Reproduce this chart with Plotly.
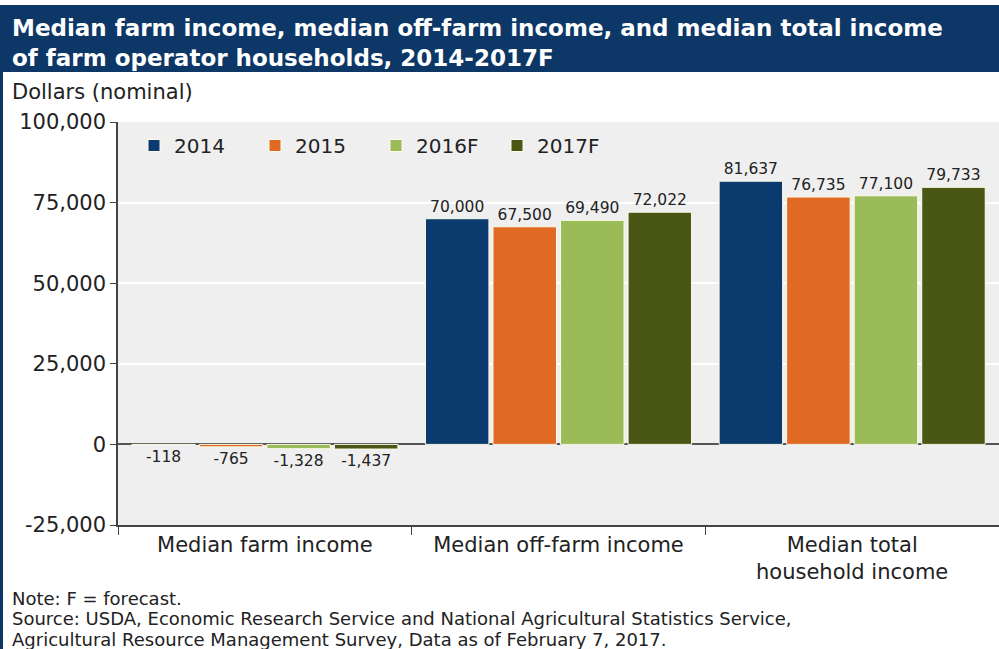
import plotly.graph_objects as go

categories = ["Median farm income", "Median off-farm income", "Median total<br>household income"]
years = ["2014", "2015", "2016F", "2017F"]
values = {
    "2014": [-118, 70000, 81637],
    "2015": [-765, 67500, 76735],
    "2016F": [-1328, 69490, 77100],
    "2017F": [-1437, 72022, 79733],
}
colors = {"2014": "#0b3a6e", "2015": "#e06a24", "2016F": "#9bbb59", "2017F": "#4a5714"}
y_ticks = [-25000, 0, 25000, 50000, 75000, 100000]
title_lines = ["Median farm income, median off-farm income, and median total income",
               "of farm operator households, 2014-2017F"]
note_lines = ["Note: F = forecast.",
              "Source: USDA, Economic Research Service and National Agricultural Statistics Service,",
              "Agricultural Resource Management Survey, Data as of February 7, 2017."]

FONT = "DejaVu Sans, Verdana, sans-serif"
W, H = 999, 649
L, R, T, B = 118, 0, 122, 124
pw, ph = W - L - R, H - T - B

def px_x(p):
    return (p - L) / pw

def px_y(p):
    return (H - B - p) / ph

fig = go.Figure()
for yr in years:
    fig.add_trace(go.Bar(
        x=categories, y=values[yr], name=yr,
        marker=dict(color=colors[yr], line=dict(color="#fbfbe8", width=1)),
        texttemplate="%{y:,}", textposition="outside",
        textfont=dict(size=15.5, color="#222222", family=FONT),
        cliponaxis=False,
    ))

shapes = [
    dict(type="rect", xref="paper", yref="paper", x0=px_x(0), x1=1.0,
         y0=px_y(72), y1=px_y(5), fillcolor="#0c3766", line=dict(width=0), layer="above"),
    dict(type="line", xref="paper", yref="paper", x0=px_x(1.5), x1=px_x(1.5),
         y0=px_y(649), y1=px_y(5), line=dict(color="#0c3766", width=3)),
]

annotations = [dict(
    text="<br>".join("<b>" + t + "</b>" for t in title_lines),
    x=px_x(10), y=px_y(43), xref="paper", yref="paper",
    xanchor="left", yanchor="middle", showarrow=False, align="left",
    font=dict(size=23, color="white", family=FONT))]
annotations.append(dict(
    text="Dollars (nominal)", x=px_x(10), y=px_y(92), xref="paper", yref="paper",
    xanchor="left", yanchor="middle", showarrow=False, font=dict(size=21, color="#222222", family=FONT)))
for i, t in enumerate(note_lines):
    annotations.append(dict(
        text=t, x=px_x(10), y=px_y(598 + 20.5 * i), xref="paper", yref="paper",
        xanchor="left", yanchor="middle", showarrow=False, align="left",
        font=dict(size=18, color="#222222", family=FONT)))

fig.update_layout(
    width=W, height=H,
    margin=dict(l=L, r=R, t=T, b=B),
    paper_bgcolor="white", plot_bgcolor="#efefef",
    font=dict(family=FONT, color="#222222"),
    barmode="group", bargap=0.08, bargroupgap=0.06,
    shapes=shapes, annotations=annotations,
    legend=dict(orientation="h", x=px_x(134), y=px_y(126), xanchor="left", yanchor="top",
                bgcolor="rgba(0,0,0,0)", font=dict(size=20, color="#222222", family=FONT),
                entrywidth=76, entrywidthmode="pixels", itemwidth=30),
    showlegend=True,
)
fig.update_xaxes(
    tickson="boundaries", ticks="outside", ticklen=8, tickcolor="#444444",
    showline=True, linecolor="#444444", linewidth=1.5,
    tickfont=dict(size=21, color="#222222", family=FONT), showgrid=False,
)
fig.update_yaxes(
    range=[-25000, 100000], tickvals=y_ticks, ticktext=[f"{v:,}" for v in y_ticks],
    ticks="outside", ticklen=6, tickcolor="#444444",
    showline=True, linecolor="#444444", linewidth=1.5,
    gridcolor="white", gridwidth=1.5,
    zeroline=True, zerolinecolor="#555555", zerolinewidth=1.5,
    tickfont=dict(size=21, color="#222222", family=FONT),
)

fig.write_html("out.html")
